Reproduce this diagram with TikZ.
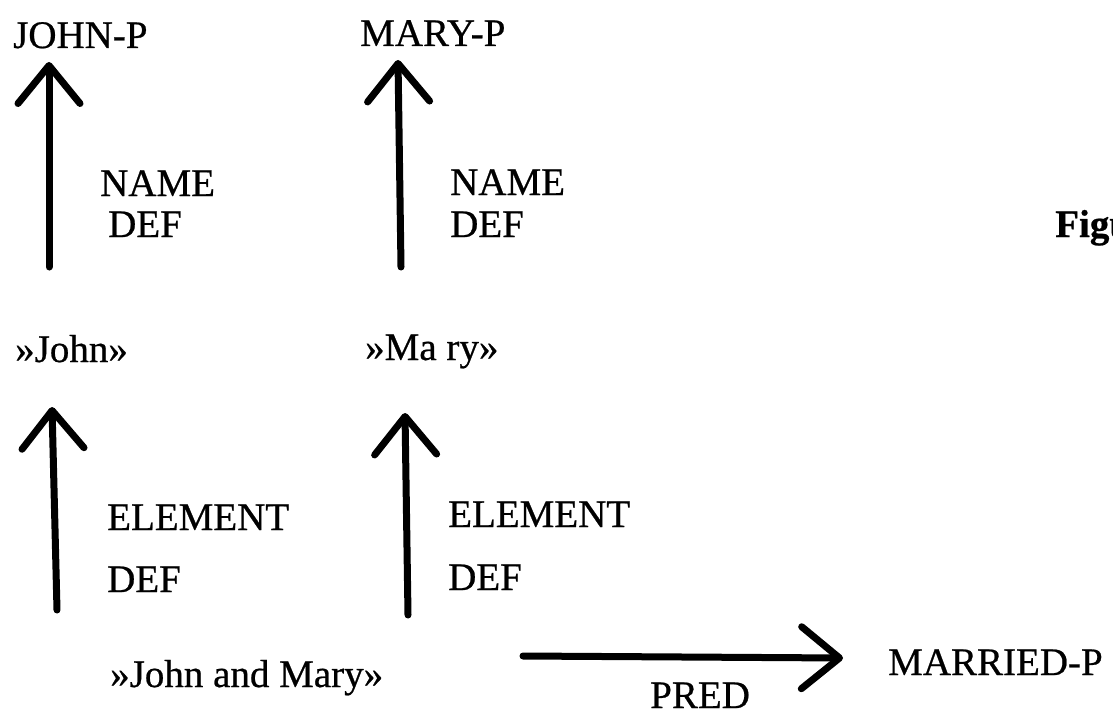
\documentclass[tikz,border=0pt]{standalone}
\usepackage{fontspec}
\setmainfont{Liberation Serif}[FakeBold=0.6]
\usetikzlibrary{arrows.meta}
\begin{document}
\begin{tikzpicture}[x=1pt,y=-1pt,
  lbl/.style={anchor=base west, inner sep=0pt, font=\fontsize{39}{44}\selectfont},
  rel/.style={line width=7pt, line cap=round, line join=round,
    -{Straight Barb[length=38pt,width=62pt,round]}}]
\useasboundingbox (0,0) rectangle (1113,717);
\fill[white] (0,0) rectangle (1113,717);
\clip (0,0) rectangle (1113,717);

% concept nodes
\node[lbl] (johnp) at (13,48) {JOHN-P};
\node[lbl] (maryp) at (360,46) {MARY-P};
\node[lbl] (john) at (15,362) {»John»};
\node[lbl] (mary) at (365,360) {»Ma ry»};
\node[lbl] (jm) at (110,687) {»John and Mary»};
\node[lbl] (married) at (888,675) {MARRIED-P};

% relation labels
\node[lbl] (name1) at (100,196) {NAME};
\node[lbl] (def1) at (108,237) {DEF};
\node[lbl] (name2) at (450,195) {NAME};
\node[lbl] (def2) at (450,237) {DEF};
\node[lbl] (elem1) at (107,530) {ELEMENT};
\node[lbl] (def3) at (107,592) {DEF};
\node[lbl] (elem2) at (448,527) {ELEMENT};
\node[lbl] (def4) at (448,590) {DEF};
\node[lbl] (pred) at (650,708) {PRED};

% caption
\node[lbl, font=\fontsize{39}{44}\selectfont\bfseries] (fig) at (1055,237) {Figu};

% arrow end points
\coordinate (a1s) at (49,267);  \coordinate (a1e) at (49,62);
\coordinate (a2s) at (401,267); \coordinate (a2e) at (398,60);
\coordinate (a3s) at (57,610);  \coordinate (a3e) at (52,407);
\coordinate (a4s) at (408,615); \coordinate (a4e) at (405,413);
\coordinate (a5s) at (523,656); \coordinate (a5e) at (843,658);

\draw[rel] (a1s) -- (a1e);
\draw[rel] (a2s) -- (a2e);
\draw[rel] (a3s) -- (a3e);
\draw[rel] (a4s) -- (a4e);
\draw[rel] (a5s) -- (a5e);
\end{tikzpicture}
\end{document}
